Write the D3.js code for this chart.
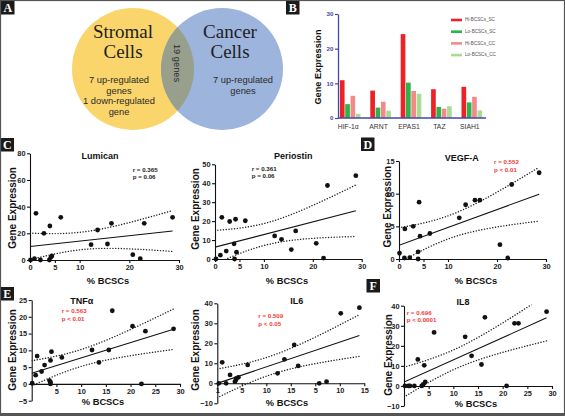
<!DOCTYPE html>
<html><head><meta charset="utf-8">
<script src="https://cdn.jsdelivr.net/npm/d3@7"></script>
<style>body{margin:0;background:#fff}svg{display:block}</style>
</head><body><svg id="c" width="565" height="416"></svg>
<script>
// ---------- DATA ----------
const vennLeftTitle = ["Stromal", "Cells"];
const vennRightTitle = ["Cancer", "Cells"];
const vennLeftText = ["7 up-regulated", "genes", "1 down-regulated", "gene"];
const vennRightText = ["7 up-regulated", "genes"];
const vennShared = "19 genes";

const genes = ["HIF-1α", "ARNT", "EPAS1", "TAZ", "SIAH1"];
const seriesNames = ["Hi-BCSCs_SC", "Lo-BCSCs_SC", "Hi-BCSCs_CC", "Lo-BCSCs_CC"];
const hiSC = [10.9, 7.9, 24.2, 8.3, 9.0];
const loSC = [4.0, 3.0, 10.2, 3.2, 4.5];
const hiCC = [6.4, 4.7, 7.8, 2.7, 6.1];
const loCC = [1.2, 2.1, 7.0, 3.4, 2.2];
const barTicks = [0, 10, 20, 30];

const lumicanX = [0.1, 0.9, 1.2, 2.1, 2.8, 3.9, 4.0, 4.2, 4.4, 6.2, 12.3, 13.6, 15.6, 16.4, 20.7, 22.2, 23.0, 28.7];
const lumicanY = [0, 1, 35, 0, 20, 0, 25.5, 2, 3, 32, 11.5, 22.5, 12, 27.5, 4, 1, 27.5, 32];
const periostinX = [0.2, 1.1, 1.4, 2.3, 3.0, 3.9, 4.0, 4.2, 4.4, 6.2, 12.2, 13.6, 15.6, 16.5, 20.7, 22.2, 23.0, 28.8];
const periostinY = [0, 2, 22, 4.2, 19.8, 8, 0, 21, 3.6, 20.2, 12.2, 10.4, 5, 14.8, 8.3, 0.5, 38.8, 44];
const vegfX = [0.1, 1.1, 1.2, 2.2, 2.9, 3.9, 3.9, 4.1, 4.3, 6.3, 12.3, 13.6, 15.5, 16.5, 20.6, 22.2, 23.0, 28.6];
const vegfY = [0.9, 0.15, 4.6, 0.2, 5.0, 0, 1.1, 8.7, 3.5, 3.9, 6.3, 8.3, 9.0, 9.0, 2.2, 0.15, 11.4, 13.2];
const tnfX = [0.1, 0.8, 1.1, 2.0, 2.6, 3.6, 3.8, 3.8, 3.8, 4.0, 6.1, 12.2, 13.6, 15.6, 16.3, 20.4, 22.2, 23.0, 28.7];
const tnfY = [0.2, 2.6, 8.3, 3.7, 5.6, 1.0, 0, 0.5, 7.0, 9.6, 7.9, 10.1, 6.4, 10.1, 21.8, 17.2, 0, 15.7, 16.4];
const il6X = [0.3, 1.0, 1.8, 2.6, 3.6, 3.8, 3.9, 4.3, 6.2, 12.3, 13.7, 15.7, 16.5, 20.8, 22.3, 25.2, 29.0];
const il6Y = [0, 10.5, 0, 4.2, 0.8, 1.7, 2.5, 3.0, 9.2, 5, 12, 19.2, 8.7, 0, 0.8, 35, 37.8];
const il8X = [0.2, 0.9, 1.2, 2.1, 2.8, 3.6, 3.9, 4.1, 4.3, 6.1, 12.4, 13.7, 15.7, 16.4, 20.8, 22.4, 23.2, 28.9];
const il8Y = [0, 0, 0, 0, 13.2, 0, 0.8, 10.3, 2.0, 26.7, 24.5, 15, 10.7, 34.2, 0, 31.2, 31.2, 37];

const lumicanStats = ["r = 0.365", "p = 0.06"];
const periostinStats = ["r = 0.361", "p = 0.06"];
const vegfStats = ["r = 0.552", "p < 0.01"];
const tnfStats = ["r = 0.563", "p < 0.01"];
const il6Stats = ["r = 0.509", "p < 0.05"];
const il8Stats = ["r = 0.696", "p < 0.0001"];

const topXTicks = [0, 5, 10, 20, 30];
const bottomXTicks = [5, 10, 15, 20, 25, 30];
const il6XTicks = [0, 5, 10, 15, 20, 25, 30];
const il6XTickLabels = ["1", "5", "10", "15", "5", "10", "15"];
const lumicanYTicks = [0, 20, 40, 60, 80];
const periostinYTicks = [0, 10, 20, 30, 40, 50];
const vegfYTicks = [0, 5, 10, 15];
const tnfYTicks = [-5, 0, 5, 10, 15, 20, 25];
const il6YTicks = [-10, 0, 10, 20, 30, 40];
const il8YTicks = [-10, 0, 10, 20, 30, 40];

const yTitle = "Gene Expression";
const xTitle = "% BCSCs";
const panelLetters = ["A", "B", "C", "D", "E", "F"];

// ---------- DRAW ----------
const svg = d3.select("#c");
const SANS = "'Liberation Sans', Arial, sans-serif";
const SERIF = "'Liberation Serif', 'Times New Roman', serif";
const defs = svg.append("defs");

// --- Panel A: Venn ---
const A = svg.append("g");
const cy = 69, rr = 61, cxL = 133, cxR = 222;
defs.append("clipPath").attr("id", "clipY").append("circle").attr("cx", cxL).attr("cy", cy).attr("r", rr);
A.append("circle").attr("cx", cxL).attr("cy", cy).attr("r", rr).attr("fill", "#f9d56c");
A.append("circle").attr("cx", cxR).attr("cy", cy).attr("r", rr).attr("fill", "#9db4dd");
A.append("circle").attr("cx", cxR).attr("cy", cy).attr("r", rr).attr("fill", "#999f8d").attr("clip-path", "url(#clipY)");
vennLeftTitle.forEach((t, i) => A.append("text").attr("x", 123).attr("y", 38 + i * 19.5)
  .attr("text-anchor", "middle").attr("font-family", SERIF).attr("font-size", 19).attr("fill", "#1e1e1e").text(t));
vennRightTitle.forEach((t, i) => A.append("text").attr("x", 230).attr("y", 38 + i * 19.5)
  .attr("text-anchor", "middle").attr("font-family", SERIF).attr("font-size", 19).attr("fill", "#1e1e1e").text(t));
vennLeftText.forEach((t, i) => A.append("text").attr("x", 119).attr("y", 83 + i * 10.7)
  .attr("text-anchor", "middle").attr("font-family", SANS).attr("font-size", 9.3).attr("fill", "#2a2a2a").text(t));
vennRightText.forEach((t, i) => A.append("text").attr("x", 243).attr("y", 83 + i * 10.7)
  .attr("text-anchor", "middle").attr("font-family", SANS).attr("font-size", 9.3).attr("fill", "#2a2a2a").text(t));
A.append("text").attr("transform", "translate(174,63) rotate(90)").attr("text-anchor", "middle")
  .attr("font-family", SANS).attr("font-size", 9.3).attr("fill", "#2a2a2a").text(vennShared);

// --- Panel B: bars ---
const B = svg.append("g");
const barColors = ["#ec2227", "#2eb34a", "#f28a8a", "#a9db93"];
const barSeries = [hiSC, loSC, hiCC, loCC];
const bx0 = d3.scaleBand().domain(genes).range([335, 487]).paddingInner(0.28).paddingOuter(0.14);
const bx1 = d3.scaleBand().domain(seriesNames).range([0, bx0.bandwidth()]).padding(0.12);
const by = d3.scaleLinear().domain([0, 30]).range([118, 14]);
genes.forEach((g, gi) => {
  barSeries.forEach((s, si) => {
    B.append("rect").attr("x", bx0(g) + bx1(seriesNames[si])).attr("width", bx1.bandwidth())
      .attr("y", by(s[gi])).attr("height", by(0) - by(s[gi])).attr("fill", barColors[si]);
  });
});
const axisBlue = "#4646a8";
const bAxis = B.append("g").attr("transform", "translate(338,0)")
  .call(d3.axisLeft(by).tickValues(barTicks).tickSize(3).tickSizeOuter(0).tickPadding(1.5));
bAxis.select(".domain").attr("stroke", axisBlue).attr("stroke-width", 1.3);
bAxis.selectAll(".tick line").attr("stroke", axisBlue).attr("stroke-width", 1.2);
bAxis.selectAll(".tick text").attr("fill", axisBlue).attr("font-family", SANS).attr("font-size", 6.2).attr("font-weight", "bold");
B.append("line").attr("x1", 338).attr("x2", 486).attr("y1", by(0)).attr("y2", by(0)).attr("stroke", axisBlue).attr("stroke-width", 1.3);
genes.forEach(g => B.append("text").attr("x", bx0(g) + bx0.bandwidth() / 2 - 2).attr("y", 128.5)
  .attr("text-anchor", "middle").attr("font-family", SANS).attr("font-size", 6.8).attr("fill", "#333").text(g));
B.append("text").attr("transform", "translate(321,67) rotate(-90)").attr("text-anchor", "middle")
  .attr("font-family", SANS).attr("font-size", 9.2).attr("font-weight", "bold").attr("fill", "#111").text(yTitle);
seriesNames.forEach((n, i) => {
  const ly = 20 + i * 11.7;
  B.append("rect").attr("x", 451).attr("y", ly - 1.3).attr("width", 11).attr("height", 2.6).attr("fill", barColors[i]);
  B.append("text").attr("x", 465).attr("y", ly).attr("dominant-baseline", "middle")
    .attr("font-family", SANS).attr("font-size", 4.6).attr("fill", "#555").text(n);
});

// --- Scatter panels ---
function tval(df) { return 1.96 + 2.4 / df + 2.4 / (df * df); }
function fit(xs, ys) {
  const n = xs.length, mx = d3.mean(xs), my = d3.mean(ys);
  let sxx = 0, sxy = 0;
  xs.forEach((x, i) => { sxx += (x - mx) ** 2; sxy += (x - mx) * (ys[i] - my); });
  const b = sxy / sxx, a = my - b * mx;
  let sse = 0;
  xs.forEach((x, i) => { sse += (ys[i] - a - b * x) ** 2; });
  const s = Math.sqrt(sse / (n - 2)), t = tval(n - 2);
  return { f: x => a + b * x, ci: x => t * s * Math.sqrt(1 / n + (x - mx) ** 2 / sxx) };
}

const panels = [
  { id: "lum", title: "Lumican", xs: lumicanX, ys: lumicanY, stats: lumicanStats, sig: false,
    xr: [30, 179], yd: [0, 80], yr: [260, 153.3], yt: lumicanYTicks, xt: topXTicks,
    tpos: [100, 158.5], spos: [132.7, 171.5], ytx: 12, yty: 208, xtx: 108, xty: 283.5 },
  { id: "per", title: "Periostin", xs: periostinX, ys: periostinY, stats: periostinStats, sig: false,
    xr: [215, 361.7], yd: [0, 50], yr: [259, 164.3], yt: periostinYTicks, xt: topXTicks,
    tpos: [293.3, 159], spos: [251.7, 170.5], ytx: 195, yty: 209, xtx: 287, xty: 283.5 },
  { id: "veg", title: "VEGF-A", xs: vegfX, ys: vegfY, stats: vegfStats, sig: true,
    xr: [399, 546], yd: [0, 15], yr: [259, 161], yt: vegfYTicks, xt: topXTicks,
    tpos: [461.7, 161], spos: [494, 164], ytx: 387.3, yty: 206.7, xtx: 476, xty: 283.5 },
  { id: "tnf", title: "TNFα", xs: tnfX, ys: tnfY, stats: tnfStats, sig: true,
    xr: [31.7, 180], yd: [-5, 25], yr: [400.7, 300], yt: tnfYTicks, xt: bottomXTicks,
    tpos: [81.7, 304], spos: [61.7, 313], ytx: 12, yty: 350, xtx: 103, xty: 405 },
  { id: "il6", title: "IL6", xs: il6X, ys: il6Y, stats: il6Stats, sig: true,
    xr: [217.3, 364.3], yd: [-10, 40], yr: [403.3, 303.3], yt: il6YTicks, xt: il6XTicks, xl: il6XTickLabels,
    tpos: [296.7, 304], spos: [258.3, 318], ytx: 195, yty: 350, xtx: 287, xty: 406 },
  { id: "il8", title: "IL8", xs: il8X, ys: il8Y, stats: il8Stats, sig: true,
    xr: [404, 552], yd: [-10, 40], yr: [406, 305.7], yt: il8YTicks, xt: bottomXTicks,
    tpos: [463, 305], spos: [406.7, 314.5], ytx: 388.3, yty: 355, xtx: 476, xty: 406.5 }
];

function styleAxis(g) {
  g.select(".domain").attr("stroke", "#111").attr("stroke-width", 1.1);
  g.selectAll(".tick line").attr("stroke", "#111").attr("stroke-width", 1.1);
  g.selectAll(".tick text").attr("fill", "#222").attr("font-family", SANS).attr("font-size", 7.4).attr("font-weight", "bold");
}

panels.forEach(p => {
  const g = svg.append("g");
  const x = d3.scaleLinear().domain([0, 30]).range(p.xr);
  const y = d3.scaleLinear().domain(p.yd).range(p.yr);
  const cid = "clip-" + p.id;
  const yTopVal = p.yd[1], yBotVal = Math.max(p.yd[0], p.yd[0] < 0 ? p.yd[0] : 0);
  defs.append("clipPath").attr("id", cid).append("rect")
    .attr("x", p.xr[0]).attr("y", y(p.yd[1]) - 1).attr("width", p.xr[1] - p.xr[0]).attr("height", y(p.yd[0]) - y(p.yd[1]) + 1);

  // axes
  const xa = g.append("g").attr("transform", `translate(0,${y(0)})`)
    .call(d3.axisBottom(x).tickValues(p.xt).tickSize(3).tickSizeOuter(0).tickPadding(1.5)
      .tickFormat((d, i) => p.xl ? p.xl[i] : d));
  styleAxis(xa);
  const ya = g.append("g").attr("transform", `translate(${p.xr[0]},0)`)
    .call(d3.axisLeft(y).tickValues(p.yt).tickSize(3).tickSizeOuter(0).tickPadding(1.5));
  styleAxis(ya);

  // fit + CI
  const F = fit(p.xs, p.ys);
  const x0 = d3.min(p.xs) < 0.5 ? 0 : d3.min(p.xs), x1 = d3.max(p.xs);
  const samp = d3.range(0, 61).map(i => x0 + (x1 - x0) * i / 60);
  const line = d3.line().x(d => x(d[0])).y(d => y(d[1]));
  const cg = g.append("g").attr("clip-path", `url(#${cid})`);
  cg.append("path").attr("d", line(samp.map(v => [v, F.f(v) + F.ci(v)])))
    .attr("fill", "none").attr("stroke", "#222").attr("stroke-width", 1.4).attr("stroke-linecap", "round").attr("stroke-dasharray", "0.1,2.7");
  cg.append("path").attr("d", line(samp.map(v => [v, F.f(v) - F.ci(v)])))
    .attr("fill", "none").attr("stroke", "#222").attr("stroke-width", 1.4).attr("stroke-linecap", "round").attr("stroke-dasharray", "0.1,2.7");
  cg.append("path").attr("d", line([[x0, F.f(x0)], [x1, F.f(x1)]]))
    .attr("fill", "none").attr("stroke", "#111").attr("stroke-width", 1.1);

  // points
  g.selectAll("circle.pt").data(p.xs.map((v, i) => [v, p.ys[i]])).join("circle")
    .attr("cx", d => x(d[0])).attr("cy", d => y(d[1])).attr("r", 2.4).attr("fill", "#111");

  // texts
  g.append("text").attr("x", p.tpos[0]).attr("y", p.tpos[1]).attr("text-anchor", "middle")
    .attr("font-family", SANS).attr("font-size", 9).attr("font-weight", "bold").attr("fill", "#111").text(p.title);
  p.stats.forEach((s, i) => g.append("text").attr("x", p.spos[0]).attr("y", p.spos[1] + i * 7.6)
    .attr("font-family", SANS).attr("font-size", 6.2).attr("font-weight", "bold").attr("fill", p.sig ? "#f03a3a" : "#222").text(s));
  g.append("text").attr("transform", `translate(${p.ytx + 3.5},${p.yty}) rotate(-90)`).attr("text-anchor", "middle")
    .attr("font-family", SANS).attr("font-size", 10).attr("font-weight", "bold").attr("fill", "#111").text(yTitle);
  g.append("text").attr("x", p.xtx).attr("y", p.xty).attr("text-anchor", "middle")
    .attr("font-family", SANS).attr("font-size", 9.3).attr("font-weight", "bold").attr("fill", "#111").text(xTitle);
});

// --- panel letter boxes ---
const boxes = [[1, 1], [286, 1], [0.5, 138], [361, 137.5], [0.5, 287], [366.5, 279]];
panelLetters.forEach((L, i) => {
  const [bx, byy] = boxes[i];
  svg.append("rect").attr("x", bx).attr("y", byy).attr("width", 13.5).attr("height", 13.5).attr("fill", "#1a1a1a");
  svg.append("text").attr("x", bx + 6.75).attr("y", byy + 11).attr("text-anchor", "middle")
    .attr("font-family", SERIF).attr("font-weight", "bold").attr("font-size", 12).attr("fill", "#fff").text(L);
});

// --- frame ---
svg.append("rect").attr("x", 0.5).attr("y", 0.5).attr("width", 564).attr("height", 414)
  .attr("fill", "none").attr("stroke", "#555").attr("stroke-width", 1.2);
svg.append("rect").attr("x", 0).attr("y", 413).attr("width", 565).attr("height", 3).attr("fill", "#555");
</script></body></html>
